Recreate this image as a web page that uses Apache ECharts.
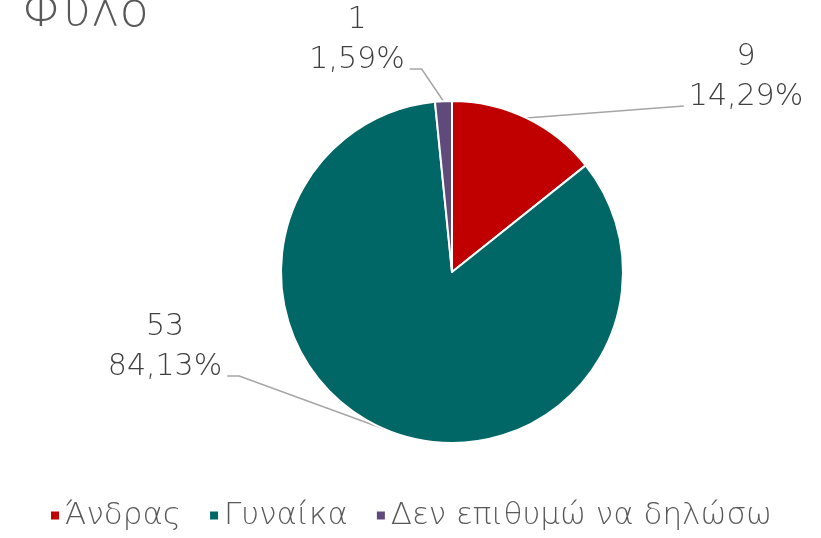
<!DOCTYPE html>
<html>
<head>
<meta charset="utf-8">
<script src="https://cdn.jsdelivr.net/npm/echarts@6/dist/echarts.min.js"></script>
<style>
  html, body { margin: 0; padding: 0; background: #fff; }
  #chart { width: 821px; height: 538px; }
</style>
</head>
<body>
<div id="chart"></div>
<script>
var categories = ['Άνδρας', 'Γυναίκα', 'Δεν επιθυμώ να δηλώσω'];
var counts = [9, 53, 1];
var colors = ['#C00000', '#006666', '#604A7B'];
// where each label box sits (centre)
var labelSpots = [[746, 77], [165, 347], [357, 40]];

var total = counts.reduce(function (a, b) { return a + b; }, 0);
var font = '"DejaVu Sans", sans-serif';
var pieX = 452;

var chart = echarts.init(document.getElementById('chart'));
chart.setOption({
  animation: false,
  title: {
    text: 'Φύλο',
    left: 17,
    top: -15,
    textStyle: { fontFamily: font, fontWeight: 200, fontSize: 48, color: '#595959' }
  },
  legend: {
    bottom: 2,
    left: 'center',
    itemWidth: 10,
    itemHeight: 10,
    itemGap: 27,
    icon: 'rect',
    textStyle: { fontFamily: font, fontWeight: 200, fontSize: 31, color: '#595959' },
    data: categories
  },
  series: [{
    type: 'pie',
    center: [pieX, 272],
    radius: 171,
    startAngle: 90,
    clockwise: true,
    itemStyle: { borderColor: '#fff', borderWidth: 2 },
    label: {
      show: true,
      position: 'outside',
      fontFamily: font,
      fontWeight: 200,
      fontSize: 30,
      lineHeight: 40,
      color: '#404040',
      align: 'center',
      formatter: function (p) {
        var pct = (p.value / total * 100).toFixed(2).replace('.', ',');
        return p.value + '\n' + pct + '%';
      }
    },
    labelLine: { show: true, lineStyle: { color: '#A6A6A6', width: 1.5 }, length: 10, length2: 10 },
    labelLayout: function (params) {
      var s = labelSpots[params.dataIndex];
      var w = params.labelRect.width;
      var lineY = s[1] + 29;
      var out = { x: s[0], y: s[1], align: 'center', verticalAlign: 'middle' };
      if (params.labelLinePoints) {
        var p0 = params.labelLinePoints[0];
        var right = s[0] > pieX;
        var edge = right ? s[0] - w / 2 - 5 : s[0] + w / 2 + 5;
        var bend = right ? edge : edge + 12;
        out.labelLinePoints = [p0, [bend, lineY], [edge, lineY]];
      }
      return out;
    },
    data: categories.map(function (c, i) {
      return { name: c, value: counts[i], itemStyle: { color: colors[i] } };
    })
  }]
});
</script>
</body>
</html>
